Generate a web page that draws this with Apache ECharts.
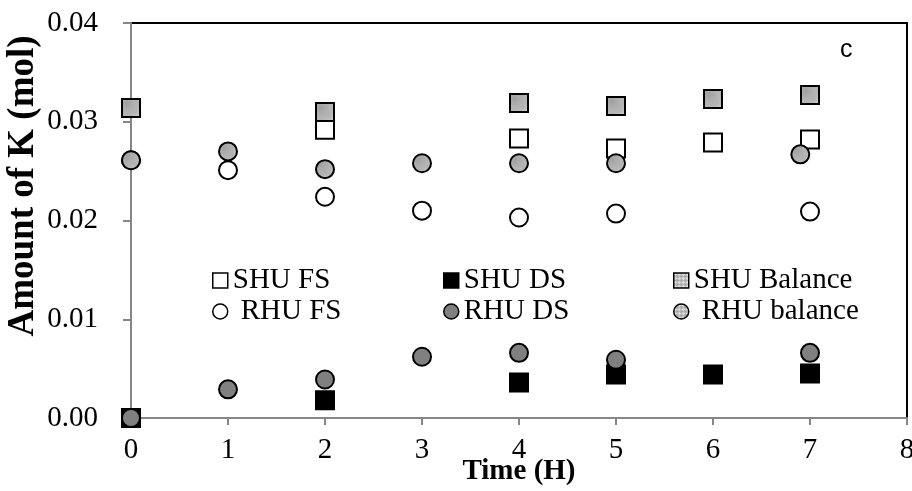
<!DOCTYPE html>
<html>
<head>
<meta charset="utf-8">
<script src="https://cdn.jsdelivr.net/npm/echarts@6/dist/echarts.min.js"></script>
<style>
  html, body { margin: 0; padding: 0; background: #fff; }
  #chart { width: 912px; height: 491px; }
</style>
</head>
<body>
<div id="chart"></div>
<script>
// Potassium amounts over time for the SHU and RHU runs
const shuTime = [0, 2, 4, 5, 6, 7];
const shuFS = [0.0314, 0.0292, 0.0283, 0.0273, 0.0279, 0.0282];
const shuDS = [0.0000, 0.0018, 0.0036, 0.0044, 0.0044, 0.0045];
const shuBalance = [0.0314, 0.0310, 0.0319, 0.0316, 0.0323, 0.0327];

const rhuTime = [0, 1, 2, 3, 4, 5, 7];
const rhuFS = [0.0261, 0.0251, 0.0224, 0.0210, 0.0203, 0.0207, 0.0209];
const rhuDS = [0.0000, 0.0029, 0.0039, 0.0062, 0.0066, 0.0059, 0.0066];
const rhuBalanceTime = [0, 1, 2, 3, 4, 5, 6.9];
const rhuBalance = [0.0261, 0.0270, 0.0252, 0.0258, 0.0258, 0.0258, 0.0267];

const xTicks = { min: 0, max: 8, interval: 1 };
const yTicks = { min: 0, max: 0.04, interval: 0.01 };

const serifFont = '"Liberation Serif", "Times New Roman", serif';

// Speckled light grey fill used for the balance markers
function speckle() {
  const c = document.createElement('canvas');
  c.width = 4; c.height = 4;
  const g = c.getContext('2d');
  g.fillStyle = '#b4b4b4';
  g.fillRect(0, 0, 4, 4);
  g.fillStyle = '#e0e0e0';
  g.fillRect(1, 0, 1, 3);
  g.fillRect(0, 1, 3, 1);
  g.fillStyle = '#a0a0a0';
  g.fillRect(3, 3, 1, 1);
  return { image: c, repeat: 'repeat' };
}
const speckleFill = speckle();

function pairs(xs, ys) { return xs.map((x, i) => [x, ys[i]]); }

function scatter(name, xs, ys, symbol, fill) {
  return {
    name: name,
    type: 'scatter',
    symbol: symbol,
    symbolSize: 18,
    data: pairs(xs, ys),
    itemStyle: { color: fill, borderColor: '#000', borderWidth: 2, opacity: 1 },
    emphasis: { disabled: true },
    z: 3
  };
}

function legendItem(name, left, top, padLeft) {
  return {
    data: [name],
    left: left,
    top: top,
    padding: 0,
    itemWidth: 15,
    itemHeight: 15,
    selectedMode: false,
    itemStyle: { borderWidth: 1.5, borderColor: '#000' },
    textStyle: {
      fontFamily: serifFont,
      fontSize: 29,
      color: '#000',
      padding: [0, 0, 0, padLeft]
    }
  };
}

const chart = echarts.init(document.getElementById('chart'), null, { renderer: 'canvas' });

chart.setOption({
  animation: false,
  backgroundColor: '#fff',
  grid: {
    left: 131, right: 5, top: 23, bottom: 73,
    outerBoundsMode: 'none',
    containLabel: false,
    show: true,
    borderColor: '#000',
    borderWidth: 2,
    backgroundColor: 'transparent'
  },
  xAxis: {
    type: 'value',
    min: xTicks.min, max: xTicks.max, interval: xTicks.interval,
    name: 'Time (H)',
    nameLocation: 'middle',
    nameGap: 39,
    nameMoveOverlap: false,
    nameTextStyle: { fontFamily: serifFont, fontSize: 29, fontWeight: 'bold', color: '#000' },
    axisLine: { show: true, onZero: false, lineStyle: { color: '#868686', width: 2 } },
    axisTick: { show: true, inside: false, length: 7, lineStyle: { color: '#868686', width: 2 } },
    axisLabel: { fontFamily: serifFont, fontSize: 29, color: '#000', margin: 18 },
    splitLine: { show: false }
  },
  yAxis: {
    type: 'value',
    min: yTicks.min, max: yTicks.max, interval: yTicks.interval,
    axisLine: { show: true, onZero: false, lineStyle: { color: '#868686', width: 2 } },
    axisTick: { show: true, inside: false, length: 8, lineStyle: { color: '#868686', width: 2 } },
    axisLabel: {
      fontFamily: serifFont, fontSize: 29, color: '#000', margin: 33,
      formatter: v => v.toFixed(2)
    },
    splitLine: { show: false }
  },
  legend: [
    legendItem('SHU FS', 212, 266, 0),
    legendItem('SHU DS', 443, 266, 0),
    legendItem('SHU Balance', 673, 266, 0),
    legendItem('RHU FS', 212, 297, 8),
    legendItem('RHU DS', 443, 297, 0),
    legendItem('RHU balance', 673, 297, 8)
  ],
  graphic: [
    {
      // vertical axis title, set a little above the axis middle
      type: 'text',
      x: 23,
      y: 186,
      rotation: Math.PI / 2,
      style: {
        text: 'Amount of K (mol)',
        fontFamily: serifFont,
        fontSize: 37,
        fontWeight: 'bold',
        fill: '#000',
        align: 'center',
        verticalAlign: 'middle'
      }
    },
    {
      type: 'text',
      left: 840,
      top: 38,
      style: { text: 'c', fontFamily: '"Liberation Sans", Arial, sans-serif', fontSize: 25, fill: '#000' }
    }
  ],
  series: [
    scatter('SHU FS', shuTime, shuFS, 'rect', '#fff'),
    scatter('SHU DS', shuTime, shuDS, 'rect', '#000'),
    scatter('SHU Balance', shuTime, shuBalance, 'rect', speckleFill),
    scatter('RHU FS', rhuTime, rhuFS, 'circle', '#fff'),
    scatter('RHU DS', rhuTime, rhuDS, 'circle', '#808080'),
    scatter('RHU balance', rhuBalanceTime, rhuBalance, 'circle', speckleFill)
  ]
});
</script>
</body>
</html>
